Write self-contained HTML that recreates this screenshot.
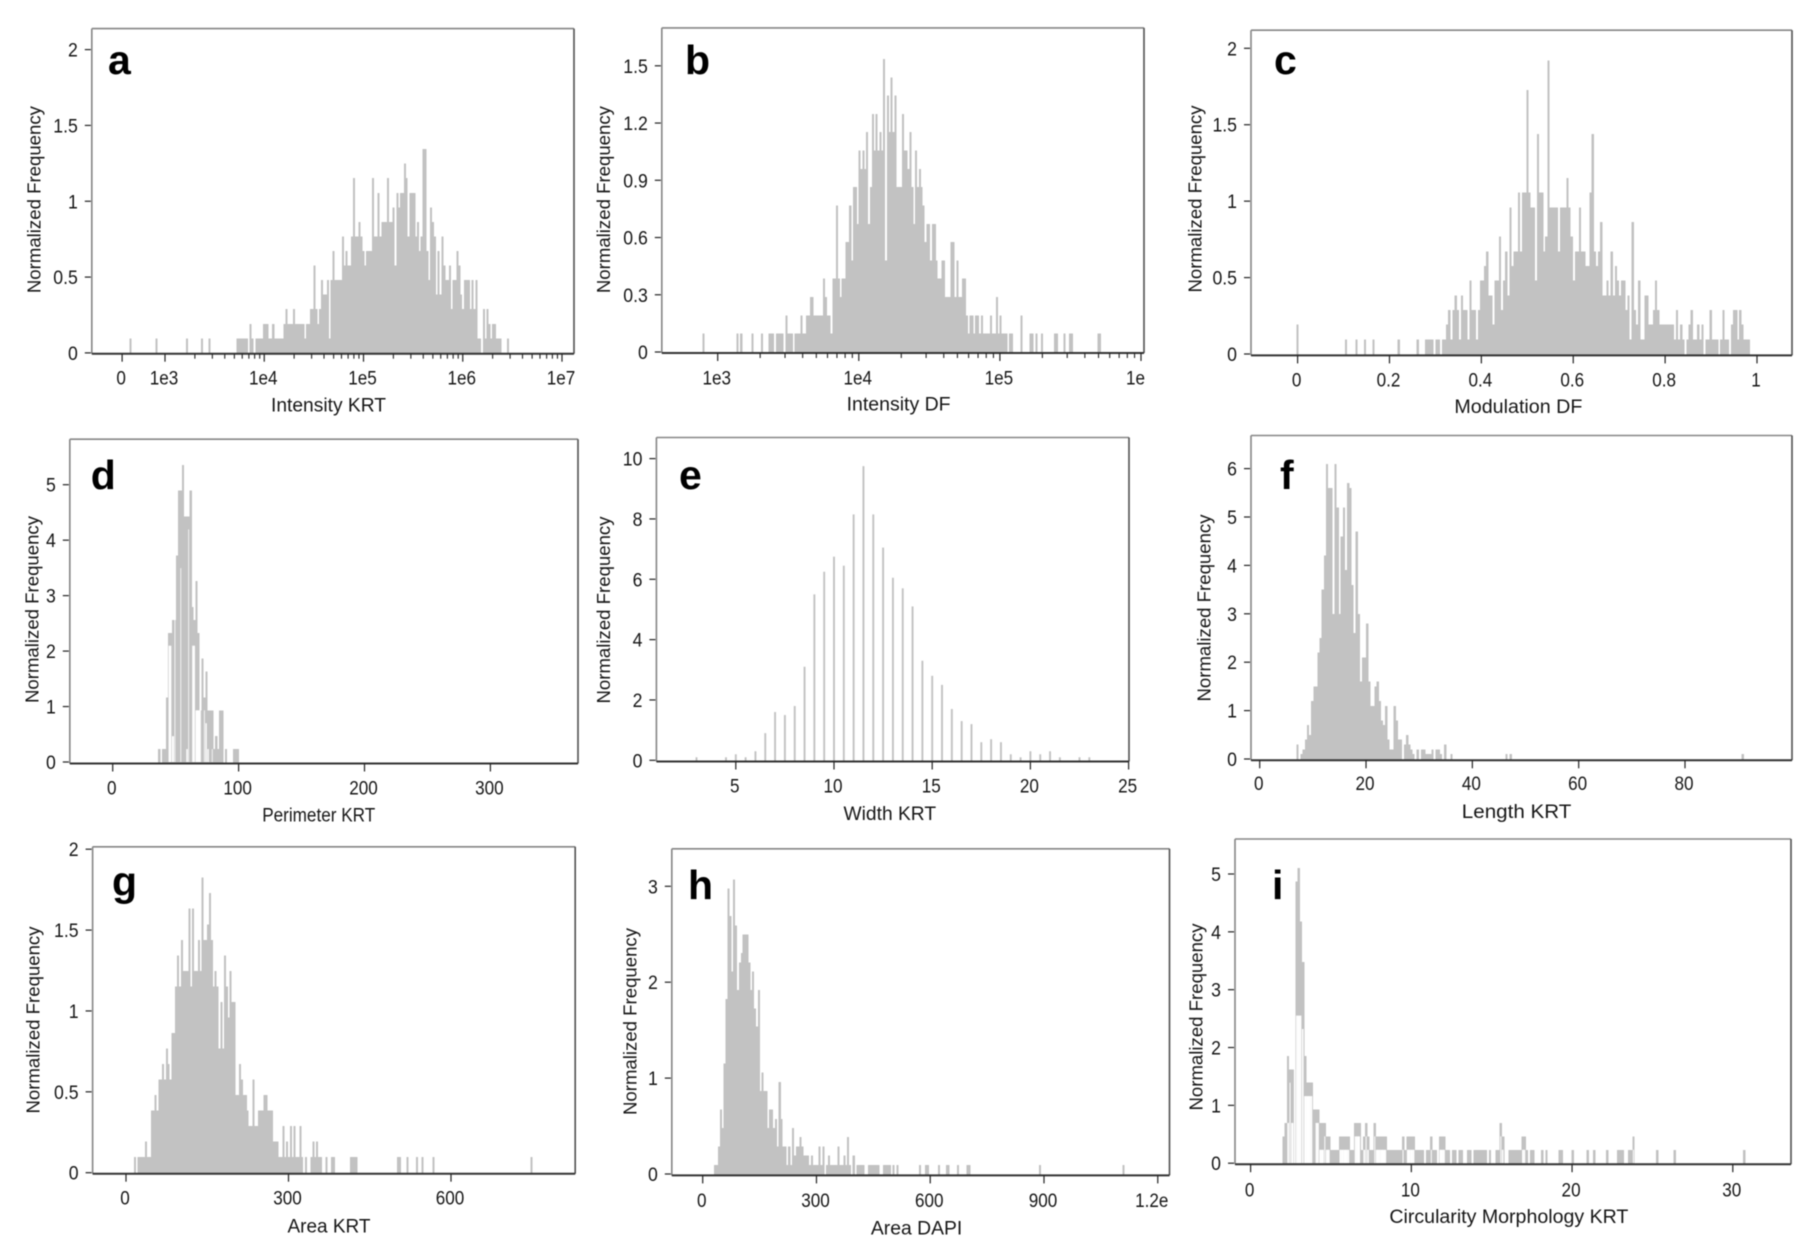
<!DOCTYPE html>
<html lang="en">
<head>
<meta charset="utf-8">
<title>Normalized frequency histograms</title>
<style>
html,body{margin:0;padding:0;background:#fff;width:1815px;height:1249px;overflow:hidden}
svg{display:block;filter:blur(0.45px)}
text{font-family:"Liberation Sans",Arial,sans-serif;fill:#161616}
</style>
</head>
<body>
<svg id="fig" xmlns="http://www.w3.org/2000/svg" width="1815" height="1249" viewBox="0 0 1815 1249"></svg>
<script>
// ---------- panel a : Intensity KRT (bin counts) ----------
const countsA = [
1,0,0,0,0,0,0,0,0,0,
0,0,0,0,1,0,0,0,0,0,
0,0,0,0,0,0,0,0,0,0,
1,0,0,0,0,0,0,0,1,0,
0,0,1,0,0,0,0,0,0,0,
0,0,0,0,0,0,0,1,1,1,
1,1,1,0,2,1,0,1,1,1,
1,2,2,2,1,1,2,1,1,1,
1,1,2,3,2,2,2,3,2,2,
2,2,2,1,2,2,3,3,6,3,
2,3,5,4,4,5,1,5,7,5,
5,5,5,8,6,7,6,6,8,12,
8,8,9,8,7,6,7,7,7,12,
8,8,11,8,9,9,9,12,9,9,
10,6,11,10,11,11,13,12,8,11,
11,11,8,9,7,8,14,14,7,5,
10,9,8,4,7,4,8,6,5,5,
6,3,5,5,7,6,4,3,5,5,
5,3,5,3,5,1,1,0,3,1,
3,2,1,2,2,1,1,1,0,0,
0,1];
const xTickValuesA = [2.568,3,4,5,6,7];
const xTickLabelsA = ['0','1e3','1e4','1e5','1e6','1e7'];
const minorDecadesA = [3,4,5,6];
const yTickValuesA = [0,0.5,1,1.5,2];
const yTickLabelsA = ['0','0.5','1','1.5','2'];

// ---------- panel b : Intensity DF ----------
const countsB = [
1,0,0,0,0,0,0,0,0,0,
0,0,0,0,0,0,0,0,1,0,
1,0,0,0,0,0,1,0,0,0,
0,1,0,0,0,1,1,1,0,1,
1,1,1,0,2,1,1,1,0,1,
1,1,2,1,1,2,2,3,3,2,
2,2,2,2,4,3,2,2,1,4,
4,8,4,3,4,4,6,6,8,5,
9,9,7,11,10,11,10,12,7,9,
13,11,13,11,12,11,16,5,14,12,
15,12,14,9,9,9,13,11,11,10,
12,9,7,11,9,10,9,8,6,7,
7,5,7,7,5,4,4,5,5,3,
3,3,6,6,3,5,3,3,4,4,
2,1,2,2,1,2,2,1,2,1,
1,1,1,2,1,1,3,1,2,1,
1,1,0,1,1,0,0,0,0,2,
0,0,0,0,1,1,0,1,0,0,
1,0,0,0,0,0,0,1,1,0,
0,0,1,0,0,1,1,0,0,0,
0,0,0,0,0,0,0,0,0,0,
1,1];
const xTickValuesB = [3,4,5,6];
const xTickLabelsB = ['1e3','1e4','1e5','1e'];
const minorDecadesB = [3,4,5];
const yTickValuesB = [0,0.3,0.6,0.9,1.2,1.5];
const yTickLabelsB = ['0','0.3','0.6','0.9','1.2','1.5'];

// ---------- panel c : Modulation DF ----------
const countsC = [
2,0,0,0,0,0,0,0,0,0,
0,0,0,0,0,0,0,0,0,0,
0,0,0,1,0,0,0,0,1,0,
0,0,1,0,0,0,1,0,0,0,
0,0,0,0,0,0,0,0,1,0,
0,0,0,0,0,0,0,1,0,0,
0,1,1,1,1,0,1,1,0,1,
1,2,3,1,3,4,3,1,4,3,
3,1,5,3,3,1,3,5,5,6,
7,4,4,2,5,5,8,3,5,7,
4,10,6,7,7,11,7,11,11,18,
11,10,10,5,15,11,11,7,8,20,
10,10,10,10,7,10,10,10,12,10,
8,5,7,7,10,7,7,6,6,11,
15,7,6,7,9,4,4,5,4,7,
4,6,5,4,5,5,3,4,1,9,
3,2,5,1,1,4,4,2,2,3,
5,3,2,2,2,2,2,2,2,1,
3,1,2,1,0,1,2,3,1,1,
2,1,2,0,1,1,3,1,1,1,
0,1,3,1,1,0,2,3,3,1,
3,2,1,1,1];
const xTickValuesC = [0,0.2,0.4,0.6,0.8,1];
const xTickLabelsC = ['0','0.2','0.4','0.6','0.8','1'];
const yTickValuesC = [0,0.5,1,1.5,2];
const yTickLabelsC = ['0','0.5','1','1.5','2'];

// ---------- panel d : Perimeter KRT ----------
const countsD = [
1,0,1,1,5,10,10,11,11,16,
21,21,23,19,19,19,21,12,11,14,
10,4,8,5,7,4,4,4,1,2,
1,4,4,0,1,0,0,0,1,1,
1];
const hollowD = [
0,0,0,0,0,9,9,2,11,0,
0,15,0,0,1,18,0,9,9,4,
4,4,0,4,3,1,0,1,0,0,
0,0,0,0,0,0,0,0,0,0,
0];
const xTickValuesD = [0,100,200,300];
const xTickLabelsD = ['0','100','200','300'];
const yTickValuesD = [0,1,2,3,4,5];
const yTickLabelsD = ['0','1','2','3','4','5'];

// ---------- panel e : Width KRT ----------
const countsE = [
0.1,0,0,0.1,0.2,0.1,0.3,0.9,1.6,1.5,
1.8,3.1,5.5,6.25,6.75,6.45,8.15,9.75,8.15,7.05,
6.05,5.7,5.1,3.3,2.8,2.5,1.7,1.3,1.2,0.6,
0.7,0.6,0.2,0.1,0.3,0.2,0.3,0.1,0,0.1,
0.1];
const xTickValuesE = [5,10,15,20,25];
const xTickLabelsE = ['5','10','15','20','25'];
const yTickValuesE = [0,2,4,6,8,10];
const yTickLabelsE = ['0','2','4','6','8','10'];

// ---------- panel f : Length KRT ----------
const countsF = [
3,0,1,2,4,7,5,12,15,15,
22,25,35,42,61,56,56,30,61,52,
30,46,52,39,57,56,36,26,47,30,
16,21,21,28,16,11,11,15,16,12,
8,7,11,4,2,2,11,8,4,4,
0,3,5,3,2,1,0,2,0,2,
2,1,1,1,2,0,2,2,1,0,
3,0,0,1,0,0,0,0,0,0,
0,0,0,0,0,0,0,0,0,0,
0,0,0,0,0,0,0,0,0,1,
0,1,0,0,0,0,0,0,0,0,
0,0,0,0,0,0,0,0,0,0,
0,0,0,0,0,0,0,0,0,0,
0,0,0,0,0,0,0,0,0,0,
0,0,0,0,0,0,0,0,0,0,
0,0,0,0,0,0,0,0,0,0,
0,0,0,0,0,0,0,0,0,0,
0,0,0,0,0,0,0,0,0,0,
0,0,0,0,0,0,0,0,0,0,
0,0,0,0,0,0,0,0,0,0,
0,0,0,0,0,0,0,0,0,0,
0,1];
const xTickValuesF = [0,20,40,60,80];
const xTickLabelsF = ['0','20','40','60','80'];
const yTickValuesF = [0,1,2,3,4,5,6];
const yTickLabelsF = ['0','1','2','3','4','5','6'];

// ---------- panel g : Area KRT ----------
const countsG = [
1,0,1,1,1,1,2,1,1,4,
4,5,4,6,6,7,6,8,7,6,
9,9,12,14,12,15,13,13,13,17,
12,17,13,13,15,13,19,15,15,16,
18,15,12,13,12,8,11,8,14,12,
10,13,11,11,5,5,7,6,5,5,
4,3,3,6,3,3,4,4,4,5,
5,4,4,4,2,2,2,1,1,3,
1,2,1,3,1,3,1,1,3,1,
0,1,0,0,1,2,1,2,1,1,
0,0,1,0,0,1,1,0,0,0,
0,0,0,0,0,1,1,1,1,0,
0,0,0,0,0,0,0,0,0,0,
0,0,0,0,0,0,0,0,0,0,
1,1,0,0,0,1,0,0,0,0,
1,0,0,1,0,0,0,0,0,1,
0,0,0,0,0,0,0,0,0,0,
0,0,0,0,0,0,0,0,0,0,
0,0,0,0,0,0,0,0,0,0,
0,0,0,0,0,0,0,0,0,0,
0,0,0,0,0,0,0,0,0,0,
0,1];
const xTickValuesG = [0,300,600];
const xTickLabelsG = ['0','300','600'];
const yTickValuesG = [0,0.5,1,1.5,2];
const yTickLabelsG = ['0','0.5','1','1.5','2'];

// ---------- panel h : Area DAPI ----------
const countsH = [
1,1,3,7,5,12,19,31,28,22,
32,27,20,23,24,26,26,26,23,20,
22,18,16,20,9,11,9,9,5,7,
7,5,6,3,10,6,3,3,1,3,
1,5,2,3,3,4,3,2,2,2,
1,2,1,1,1,3,1,3,0,1,
2,1,1,1,1,3,1,1,2,1,
4,1,0,2,0,1,1,1,1,0,
0,1,1,1,1,1,1,0,0,1,
1,1,1,0,1,0,1,0,0,0,
0,0,0,0,0,0,0,0,1,0,
0,1,1,0,0,0,0,0,1,0,
0,0,1,1,0,0,0,0,1,0,
0,0,0,1,1,0,0,0,0,0,
0,0,0,0,0,0,0,0,0,0,
0,0,0,0,0,0,0,0,0,0,
0,0,0,0,0,0,0,0,0,0,
0,1,0,0,0,0,0,0,0,0,
0,0,0,0,0,0,0,0,0,0,
0,0,0,0,0,0,0,0,0,0,
0,0,0,0,0,0,0,0,0,0,
0,0,0,0,0,1];
const xTickValuesH = [0,300,600,900,1200];
const xTickLabelsH = ['0','300','600','900','1.2e'];
const yTickValuesH = [0,1,2,3];
const yTickLabelsH = ['0','1','2','3'];

// ---------- panel i : Circularity Morphology KRT ----------
const countsI = [
2,3,8,7,7,7,21,22,18,15,
8,6,6,6,4,4,4,3,3,3,
2,2,1,1,1,1,2,2,2,2,
2,1,1,3,3,3,1,2,3,2,
1,1,3,2,2,2,2,2,1,1,
1,1,1,1,1,2,1,2,2,2,
2,1,1,1,1,0,1,1,2,1,
1,0,2,2,2,1,1,0,1,1,
0,1,1,0,0,1,1,0,1,1,
1,1,1,1,0,1,0,0,1,1,
3,2,0,0,1,1,1,1,1,1,
2,2,1,0,1,1,0,0,0,1,
0,1,0,0,0,0,0,1,1,0,
0,0,0,1,0,0,0,0,0,0,
1,0,0,1,0,0,0,0,0,1,
0,0,0,0,1,1,1,0,0,1,
1,2,0,0,0,0,0,0,0,0,
0,0,1,0,0,0,0,0,0,0,
1,0,0,0,0,0,0,0,0,0,
0,0,0,0,0,0,0,0,0,0,
0,0,0,0,0,0,0,0,0,0,
0,0,1];
const hollowI = [
0,0,3,6,3,7,11,11,11,10,
5,5,5,5,0,3,3,1,1,2,
1,1];
const xTickValuesI = [0,10,20,30];
const xTickLabelsI = ['0','10','20','30'];
const yTickValuesI = [0,1,2,3,4,5];
const yTickLabelsI = ['0','1','2','3','4','5'];

const SVGNS = 'http://www.w3.org/2000/svg';
const fig = document.getElementById('fig');

function linearAxis(d0, p0, d1, p1) {
  return function (v) { return p0 + (v - d0) * (p1 - p0) / (d1 - d0); };
}
function makeEl(tag, attrs, parent) {
  const el = document.createElementNS(SVGNS, tag);
  Object.keys(attrs).forEach(function (k) { el.setAttribute(k, attrs[k]); });
  parent.appendChild(el);
  return el;
}

const panelConfigs = [
 {id:'a',title:'Intensity KRT',counts:countsA,unit:0.096,xv:xTickValuesA,xl:xTickLabelsA,yv:yTickValuesA,yl:yTickLabelsA,minor:minorDecadesA,
  L:91.8,R:574,T:28.6,B:353.7,xd0:3,xp0:165,xd1:7,xp1:562,yd1:2,y0:352.9,y1:49.6,start:2.641,step:0.01894,
  tickBase:384.5,titleBase:411.5,titleX:328.5,titleW:115,ylX:34,ylY:199.6,letterX:108,letterY:74},
 {id:'b',title:'Intensity DF',counts:countsB,unit:0.096,xv:xTickValuesB,xl:xTickLabelsB,yv:yTickValuesB,yl:yTickLabelsB,minor:minorDecadesB,
  L:661.8,R:1144,T:27.9,B:353,xd0:3,xp0:717.7,xd1:6,xp1:1141,yd1:1.5,y0:352,y1:65.8,start:2.8933,step:0.01332,
  tickBase:384.5,titleBase:410.5,titleX:898.6,titleW:104,ylX:603.5,ylY:199.6,letterX:685,letterY:74,lastShift:-5.5},
 {id:'c',title:'Modulation DF',counts:countsC,unit:0.096,xv:xTickValuesC,xl:xTickLabelsC,yv:yTickValuesC,yl:yTickLabelsC,
  L:1251,R:1792,T:30.2,B:355.4,xd0:0,xp0:1297.6,xd1:1,xp1:1757,yd1:2,y0:354,y1:48.3,start:-0.0026,step:0.00459,
  tickBase:386.5,titleBase:413.2,titleX:1518.4,titleW:128,ylX:1195,ylY:199,letterX:1274,letterY:74},
 {id:'d',title:'Perimeter KRT',counts:countsD,hollow:hollowD,unit:0.233,xv:xTickValuesD,xl:xTickLabelsD,yv:yTickValuesD,yl:yTickLabelsD,
  L:69.8,R:578,T:439.2,B:763.5,xd0:0,xp0:112.7,xd1:300,xp1:490.4,yd1:5,y0:762,y1:484.7,start:36.1,step:1.563,
  tickBase:794.5,titleBase:821.5,titleX:318.7,titleW:113,ylX:32,ylY:609.5,letterX:90.7,letterY:489},
 {id:'e',title:'Width KRT',counts:countsE,unit:1,xv:xTickValuesE,xl:xTickLabelsE,yv:yTickValuesE,yl:yTickLabelsE,
  L:656.4,R:1129,T:437.5,B:761.5,xd0:5,xp0:735.8,xd1:25,xp1:1128.6,yd1:10,y0:760.3,y1:458.6,start:3,step:0.5,barPx:1.9,
  tickBase:792.5,titleBase:820,titleX:889.8,titleW:92.6,ylX:603.5,ylY:610,letterX:679,letterY:489},
 {id:'f',title:'Length KRT',counts:countsF,unit:0.1,xv:xTickValuesF,xl:xTickLabelsF,yv:yTickValuesF,yl:yTickLabelsF,
  L:1251,R:1792,T:435.5,B:760.3,xd0:0,xp0:1259.7,xd1:80,xp1:1685,yd1:6,y0:759,y1:468.6,start:6.9,step:0.397,
  tickBase:790,titleBase:818,titleX:1516.6,titleW:109.6,ylX:1204,ylY:608,letterX:1280,letterY:489},
 {id:'g',title:'Area KRT',counts:countsG,unit:0.096,xv:xTickValuesG,xl:xTickLabelsG,yv:yTickValuesG,yl:yTickLabelsG,
  L:92.6,R:575.2,T:846.8,B:1173.7,xd0:0,xp0:126,xd1:600,xp1:451,yd1:2,y0:1172.7,y1:849.2,start:14.5,step:3.47,
  tickBase:1204.5,titleBase:1232.5,titleX:329,titleW:83,ylX:33,ylY:1020,letterX:112,letterY:895.5},
 {id:'h',title:'Area DAPI',counts:countsH,unit:0.096,xv:xTickValuesH,xl:xTickLabelsH,yv:yTickValuesH,yl:yTickLabelsH,
  L:671.8,R:1169.5,T:848.8,B:1175.4,xd0:0,xp0:702.7,xd1:900,xp1:1044,yd1:3,y0:1174,y1:886.3,start:30.3,step:5.005,
  tickBase:1207,titleBase:1234.5,titleX:916.6,titleW:91.4,ylX:630,ylY:1021.5,letterX:688,letterY:899,lastShift:-6},
 {id:'i',title:'Circularity Morphology KRT',counts:countsI,hollow:hollowI,autoHollow:true,unit:0.232,xv:xTickValuesI,xl:xTickLabelsI,yv:yTickValuesI,yl:yTickLabelsI,
  L:1235,R:1791,T:839,B:1164.2,xd0:0,xp0:1250.6,xd1:30,xp1:1732.8,yd1:5,y0:1163.2,y1:874,start:1.98,step:0.1352,
  tickBase:1196.5,titleBase:1223,titleX:1508.9,titleW:239,ylX:1196,ylY:1017,letterX:1272,letterY:899}
];

panelConfigs.forEach(function (p) {
  const X = linearAxis(p.xd0, p.xp0, p.xd1, p.xp1);
  const Y = linearAxis(0, p.y0, p.yd1, p.y1);
  const g = makeEl('g', {}, fig);
  
  

  function hollowAt(i) {
    const c = p.counts[i] || 0;
    if (p.hollow && i < p.hollow.length) return p.hollow[i];
    if (p.autoHollow && c > 1) return c - 1;
    return 0;
  }

  // bars
  p.counts.forEach(function (c, i) {
    if (c <= 0) return;
    const v = p.start + i * p.step;
    const full = X(p.step) - X(0);
    const w = p.barPx ? p.barPx : full * 1.08;
    const x = p.barPx ? X(v) - w / 2 : X(v);
    const top = Y(c * p.unit);
    const r = makeEl('rect', {x: x.toFixed(2), y: top.toFixed(2), width: w.toFixed(2), height: (p.y0 - top + 1).toFixed(2), fill: '#c2c2c2', 'shape-rendering': p.barPx ? 'auto' : 'crispEdges'}, g);
    
    
  });

  // white hollow interiors of outlined bars
  p.counts.forEach(function (c, i) {
    const h = hollowAt(i);
    if (h <= 0) return;
    const x0 = X(p.start + i * p.step);
    const full = X(p.step) - X(0);
    const li = hollowAt(i - 1) >= h ? 0 : 0.6;
    const ri = hollowAt(i + 1) >= h ? -0.1 : 0.6;
    const top = Y(h * p.unit);
    const r = makeEl('rect', {x: (x0 + li).toFixed(2), y: top.toFixed(2), width: (full - li - ri).toFixed(2), height: (p.y0 - top).toFixed(2), fill: '#ffffff'}, g);
    
    
  });

  // frame
  const frameTop = makeEl('line', {x1: p.L, y1: p.T, x2: p.R, y2: p.T, stroke: '#858585', 'stroke-width': 1.6}, g);
  
  
  const frameLeft = makeEl('line', {x1: p.L, y1: p.T, x2: p.L, y2: p.B, stroke: '#858585', 'stroke-width': 1.6}, g);
  
  
  const frameRight = makeEl('line', {x1: p.R, y1: p.T, x2: p.R, y2: p.B, stroke: '#505050', 'stroke-width': 1.6}, g);
  
  
  const xAxisLine = makeEl('line', {x1: p.L, y1: p.B, x2: p.R, y2: p.B, stroke: '#333', 'stroke-width': 2}, g);
  
  

  // y ticks
  p.yv.forEach(function (v, i) {
    const y = Y(v);
    const t = makeEl('line', {x1: p.L - 7, y1: y, x2: p.L - 1, y2: y, stroke: '#222', 'stroke-width': 1.2}, g);
    
    
    const lab = makeEl('text', {'font-size': 19, 'text-anchor': 'end', transform: 'translate(' + (p.L - 14) + ',' + (y + 7) + ') scale(0.93,1)'}, g);
    lab.textContent = p.yl[i];
    
    
  });

  // x ticks
  p.xv.forEach(function (v, i) {
    const x = X(v);
    const t = makeEl('line', {x1: x, y1: p.B, x2: x, y2: p.B + 8, stroke: '#222', 'stroke-width': 1.2}, g);
    
    
    const shift = (i === p.xv.length - 1 && p.lastShift) ? p.lastShift : -1;
    const lab = makeEl('text', {'font-size': 19, 'text-anchor': 'middle', transform: 'translate(' + (x + shift) + ',' + p.tickBase + ') scale(0.9,1)'}, g);
    lab.textContent = p.xl[i];
    
    
  });

  // log minor ticks
  (p.minor || []).forEach(function (dec) {
    for (let n = 2; n <= 9; n++) {
      const x = X(dec + Math.log10(n));
      const t = makeEl('line', {x1: x, y1: p.B, x2: x, y2: p.B + 5, stroke: '#222', 'stroke-width': 1.1}, g);
      
      
    }
  });

  // titles
  const xTitle = makeEl('text', {x: p.titleX, y: p.titleBase, 'font-size': 19, 'text-anchor': 'middle', textLength: p.titleW, lengthAdjust: 'spacingAndGlyphs'}, g);
  xTitle.textContent = p.title;
  
  

  const yTitle = makeEl('text', {'font-size': 18.6, 'text-anchor': 'middle', transform: 'translate(' + (p.ylX + 6.5) + ',' + p.ylY + ') rotate(-90)'}, g);
  yTitle.textContent = 'Normalized Frequency';
  
  

  const letter = makeEl('text', {x: p.letterX, y: p.letterY, 'font-size': 41, 'font-weight': 'bold', style: 'fill:#000'}, g);
  letter.textContent = p.id;
  
  
});
</script>
</body>
</html>
